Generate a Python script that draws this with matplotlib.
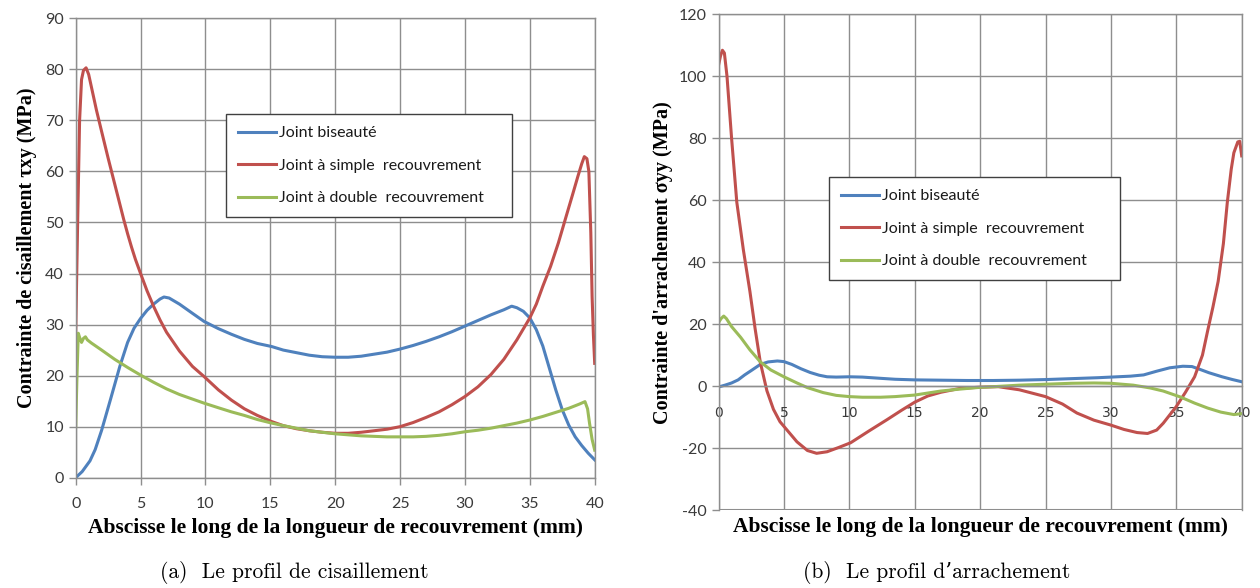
import numpy as np
import matplotlib
matplotlib.use("Agg")
import matplotlib.pyplot as plt

plt.rcParams["axes.unicode_minus"] = False

# === Données ===
labels = ["Joint biseauté", "Joint à simple  recouvrement", "Joint à double  recouvrement"]
colors = ["#4F81BD", "#C0504D", "#9BBB59"]

# (a) cisaillement tau_xy
xa_bis = [0, 0.5, 1.1, 1.5, 2.0, 2.7, 3.4, 4.0, 4.5, 5.0, 5.5, 6.0, 6.5, 6.8, 7.2, 8.0, 9.0, 9.9,
          11, 12, 13, 14, 15.1, 16, 17, 18, 19, 20, 21, 22, 23, 24, 25, 26, 27, 28, 29, 30, 31, 32,
          33, 33.6, 34, 34.5, 35, 35.5, 36, 36.5, 37, 37.5, 38, 38.5, 39, 39.5, 40]
ya_bis = [0, 1.2, 3.3, 5.5, 9.3, 15.5, 21.8, 26.5, 29.3, 31.2, 32.8, 34.0, 35.0, 35.4, 35.2, 34.0,
          32.2, 30.6, 29.2, 28.1, 27.1, 26.3, 25.7, 25.0, 24.5, 24.0, 23.7, 23.6, 23.6, 23.8, 24.2,
          24.6, 25.2, 25.9, 26.7, 27.6, 28.6, 29.7, 30.8, 31.9, 32.9, 33.6, 33.3, 32.6, 31.3, 29.0,
          25.8, 21.5, 17.2, 13.3, 10.3, 8.0, 6.3, 4.8, 3.5]

xa_simple = [0, 0.15, 0.3, 0.45, 0.6, 0.8, 1.0, 1.3, 1.6, 2.0, 2.5, 3.0, 3.4, 3.7, 4.0, 4.3, 4.6,
             5.0, 5.5, 6.0, 6.5, 7.0, 8.0, 9.0, 9.9, 11, 12, 13, 14, 15.1, 16, 17, 18, 19, 20, 21,
             22, 23, 24, 25, 26, 27, 28, 29, 30, 31, 32, 33, 34, 35, 35.5, 36, 36.6, 37.2, 37.8,
             38.3, 38.7, 39.0, 39.2, 39.4, 39.55, 39.7, 39.8, 39.9, 40]
ya_simple = [28.5, 50, 70, 78, 79.8, 80.3, 79, 75.5, 72.0, 67.8, 62.6, 57.6, 53.6, 50.6, 47.8,
             45.2, 42.8, 40, 36.6, 33.6, 30.9, 28.5, 24.8, 21.8, 19.8, 17.2, 15.2, 13.5, 12.2,
             11.0, 10.2, 9.6, 9.2, 8.9, 8.7, 8.7, 8.9, 9.2, 9.5, 10.0, 10.8, 11.8, 12.9, 14.3,
             15.9, 17.8, 20.2, 23.2, 27.0, 31.3, 34.0, 37.5, 41.4, 46.0, 51.2, 55.5, 59.0, 61.5,
             62.9, 62.5, 60, 48, 35.5, 28, 22.4]

xa_double = [0, 0.1, 0.2, 0.3, 0.45, 0.6, 0.75, 0.9, 1.2, 2.0, 3.0, 4.0, 5.0, 6.0, 7.0, 8.0, 9.0,
             9.9, 11, 12, 13, 14, 15.1, 16, 17, 18, 19, 20, 21, 22, 23, 24, 25, 26, 27, 28, 29,
             30, 31, 32, 33, 34, 35, 36, 37, 38, 38.8, 39.25, 39.45, 39.6, 39.8, 40]
ya_double = [10, 20, 28.3, 27.5, 26.5, 27.3, 27.6, 27.0, 26.4, 25, 23.2, 21.6, 20.1, 18.7, 17.4,
             16.3, 15.4, 14.6, 13.7, 12.9, 12.2, 11.4, 10.7, 10.2, 9.7, 9.2, 8.9, 8.6, 8.4, 8.2,
             8.1, 8.0, 8.0, 8.0, 8.1, 8.3, 8.6, 9.0, 9.3, 9.7, 10.2, 10.7, 11.3, 12.0, 12.8,
             13.6, 14.4, 14.9, 13.5, 10.7, 7.5, 5.4]

# (b) arrachement sigma_yy
xb_bis = [0, 0.5, 1.0, 1.5, 2.0, 2.5, 3.2, 3.8, 4.5, 5.0, 5.6, 6.3, 7.0, 7.7, 8.3, 9.0, 10, 11,
          12.4, 13.5, 15, 17, 19, 21, 23, 25, 27, 29, 30, 31.5, 32.5, 33.5, 34.5, 35.5, 36.2,
          36.8, 37.5, 38.5, 39.3, 40]
yb_bis = [-0.3, 0.3, 1.0, 2.0, 3.6, 5.0, 7.0, 7.8, 8.1, 7.9, 7.0, 5.6, 4.4, 3.5, 3.0, 2.9, 3.0,
          2.9, 2.5, 2.2, 2.0, 1.9, 1.8, 1.8, 1.9, 2.1, 2.4, 2.7, 2.9, 3.2, 3.6, 4.8, 5.9, 6.4,
          6.3, 5.4, 4.3, 3.0, 2.1, 1.4]

xb_simple = [0, 0.15, 0.3, 0.45, 0.65, 1.0, 1.4, 1.9, 2.4, 2.8, 3.2, 3.7, 4.2, 4.7, 5.2, 6.0,
             6.8, 7.5, 8.3, 9.2, 10.1, 11.5, 12.9, 14, 15, 16, 17, 18.4, 19.8, 21.4, 23, 25,
             26.3, 27.4, 28.7, 30, 31, 32, 32.8, 33.5, 34, 35, 35.7, 36.4, 37, 37.4, 37.8, 38.2,
             38.6, 38.9, 39.2, 39.4, 39.7, 39.85, 40]
yb_simple = [103.5, 106.5, 108.4, 107.5, 100, 80, 59.3, 44, 30.6, 18.5, 7.6, -1.5, -7.5, -11.5,
             -14.0, -18.0, -20.8, -21.7, -21.2, -19.8, -18.3, -14.5, -10.8, -7.8, -5.2, -3.2,
             -2.0, -0.8, -0.4, -0.2, -1.2, -3.4, -5.8, -8.7, -11, -12.6, -14.0, -15.0, -15.3,
             -14.2, -12.0, -6.6, -2, 3.0, 10, 17.9, 25.5, 33.8, 46, 59.3, 70, 75.3, 78.8, 79.0,
             74.3]

xb_double = [0, 0.2, 0.4, 0.6, 1.0, 1.7, 2.4, 3.2, 4.0, 5.0, 6.0, 6.8, 8.0, 9.0, 10, 11, 12.4,
             13.5, 15, 17, 18.4, 20, 21, 23, 25, 27, 28.7, 30, 31.7, 33, 34, 35.3, 36.4, 37.4,
             38.4, 39.4, 40]
yb_double = [20.5, 21.8, 22.6, 21.8, 19.2, 15.7, 11.7, 7.8, 5.2, 3.0, 1.0, -0.5, -2.1, -3.0,
             -3.4, -3.6, -3.6, -3.4, -2.9, -1.6, -1.0, -0.4, -0.2, 0.3, 0.6, 0.9, 1.0, 0.9,
             0.3, -0.6, -1.6, -3.5, -5.5, -7.1, -8.4, -9.2, -8.9]

xticks = [0, 5, 10, 15, 20, 25, 30, 35, 40]
yticks_a = [0, 10, 20, 30, 40, 50, 60, 70, 80, 90]
yticks_b = [-40, -20, 0, 20, 40, 60, 80, 100, 120]

xlabel = "Abscisse le long de la longueur de recouvrement (mm)"
ylabel_a = "Contrainte de cisaillement τxy (MPa)"
ylabel_b = "Contrainte d'arrachement σyy (MPa)"
caption_a = "(a)  Le profil de cisaillement"
caption_b = "(b)  Le profil d’arrachement"

W, H = 1260, 588
fig = plt.figure(figsize=(W / 100, H / 100), dpi=100)


def px_axes(x0, y0, x1, y1):
    return fig.add_axes([x0 / W, 1 - y1 / H, (x1 - x0) / W, (y1 - y0) / H])


gridc = "#8E8E8E"
tickfont = dict(family="Lato", size=11.5)
xlabfont = dict(family="Liberation Serif", weight="bold", size=15.5)
ylabfont = dict(family="Liberation Serif", weight="bold", size=14.5)


def style(ax, yticks):
    ax.set_xlim(0, 40)
    ax.set_ylim(yticks[0], yticks[-1])
    ax.set_xticks(xticks)
    ax.set_yticks(yticks)
    ax.grid(True, color=gridc, lw=1)
    ax.set_axisbelow(True)
    for s in ax.spines.values():
        s.set_color(gridc)
        s.set_linewidth(1)
    ax.tick_params(colors=gridc, length=5, width=1, labelcolor="#3A3A3A")
    for t in ax.get_xticklabels() + ax.get_yticklabels():
        t.set_fontfamily(tickfont["family"])
        t.set_fontsize(tickfont["size"])


def legend(ax, x0, y0, x1, y1):
    lg = ax.legend(loc="upper left", bbox_to_anchor=(x0 / W, 1 - y0 / H, (x1 - x0) / W, 0),
                   bbox_transform=fig.transFigure, mode="expand", fancybox=False,
                   framealpha=1, edgecolor="#404040", handlelength=2.4, handletextpad=0.15,
                   labelspacing=1.15, borderpad=0.75, borderaxespad=0,
                   prop=dict(family="Lato", size=11.5))
    lg.get_frame().set_linewidth(1)
    for t in lg.get_texts():
        t.set_color("#1A1A1A")


lw = 2.2

# --- (a) ---
ax1 = px_axes(75.7, 18.3, 594.7, 477.7)
ax1.plot(xa_bis, ya_bis, color=colors[0], lw=lw, label=labels[0], solid_joinstyle="round")
ax1.plot(xa_simple, ya_simple, color=colors[1], lw=lw, label=labels[1], solid_joinstyle="round")
ax1.plot(xa_double, ya_double, color=colors[2], lw=lw, label=labels[2], solid_joinstyle="round")
style(ax1, yticks_a)
ax1.tick_params(axis="x", pad=9)
ax1.set_xlabel(xlabel, fontdict=xlabfont, labelpad=5)
ax1.set_ylabel(ylabel_a, fontdict=ylabfont, labelpad=6)
legend(ax1, 226, 114, 512, 216)

# --- (b) ---
ax2 = px_axes(718.5, 14.3, 1241.7, 510)
ax2.plot(xb_bis, yb_bis, color=colors[0], lw=lw, label=labels[0], solid_joinstyle="round")
ax2.plot(xb_simple, yb_simple, color=colors[1], lw=lw, label=labels[1], solid_joinstyle="round")
ax2.plot(xb_double, yb_double, color=colors[2], lw=lw, label=labels[2], solid_joinstyle="round")
style(ax2, yticks_b)
ax2.spines["bottom"].set_position(("data", 0))
ax2.tick_params(axis="x", length=0, pad=14)
ax2.axhline(-40, color=gridc, lw=1.5, zorder=0.5)
ax2.set_xlabel(xlabel, fontdict=xlabfont)
ax2.xaxis.set_label_coords(0.5, -0.014)
ax2.set_ylabel(ylabel_b, fontdict=ylabfont, labelpad=4)
legend(ax2, 829, 177, 1120, 275)

# --- légendes des sous-figures ---
capfont = dict(family=["cmr10", "DejaVu Serif"], size=15.5)
fig.text(160 / W, 1 - 572 / H, caption_a, ha="left", va="center", **capfont)
fig.text(803 / W, 1 - 572 / H, caption_b, ha="left", va="center", **capfont)

fig.savefig("out.png", dpi=100)
